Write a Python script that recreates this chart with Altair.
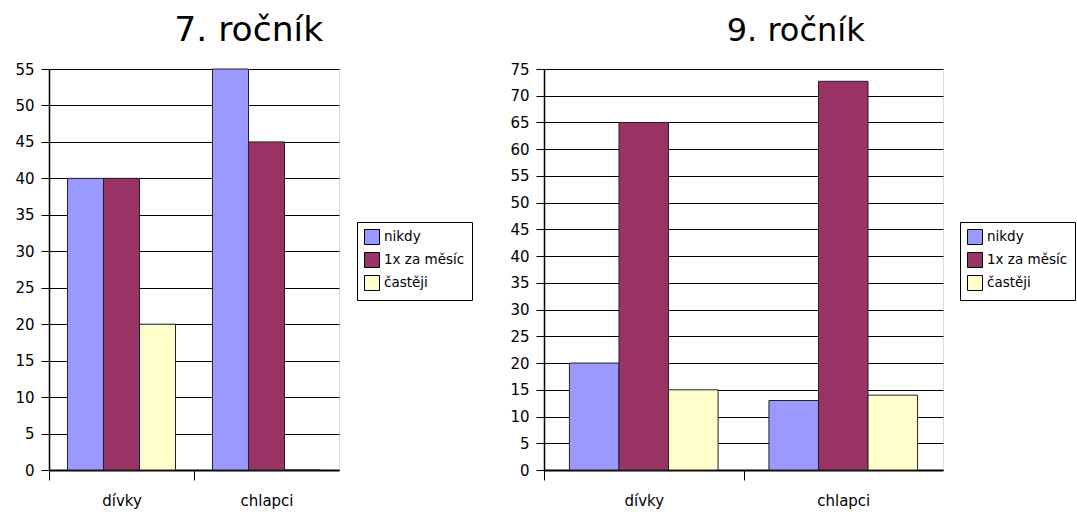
import altair as alt
import pandas as pd

categories = ["dívky", "chlapci"]
series = ["nikdy", "1x za měsíc", "častěji"]
colors = ["#9999FF", "#993366", "#FFFFCC"]

g7_nikdy = [40, 55]
g7_mesic = [40, 45]
g7_casteji = [20, 0]

g9_nikdy = [20, 13]
g9_mesic = [65, 72.7]
g9_casteji = [15, 14]

FONT = "DejaVu Sans"
PAD_INNER = 0.255


def make_frame(a, b, c):
    rows = []
    for i, cat in enumerate(categories):
        for s, vals in zip(series, (a, b, c)):
            rows.append({"skupina": cat, "odpověď": s, "hodnota": vals[i]})
    return pd.DataFrame(rows)


def panel(df, title, tsize, tdx, ymax, width, lx, ly):
    step = width / len(categories)
    shift = step * PAD_INNER / 2
    return (
        alt.Chart(
            df,
            title=alt.TitleParams(
                title, fontSize=tsize, font=FONT, fontWeight="normal", color="black",
                anchor="middle", frame="bounds", offset=14, dx=tdx,
            ),
        )
        .mark_bar(stroke="#222222", strokeWidth=1)
        .encode(
            x=alt.X(
                "skupina:N", sort=categories, title=None,
                scale=alt.Scale(paddingInner=PAD_INNER, paddingOuter=PAD_INNER / 2),
                axis=alt.Axis(
                    labelAngle=0, bandPosition=0, tickOffset=-shift, labelOffset=shift,
                    tickSize=10, tickColor="black",
                    domainColor="black", domainWidth=2, labelPadding=13,
                    labelFontSize=15, labelFont=FONT, labelColor="black",
                ),
            ),
            xOffset=alt.XOffset("odpověď:N", sort=series),
            y=alt.Y(
                "hodnota:Q", title=None,
                scale=alt.Scale(domain=[0, ymax], nice=False),
                axis=alt.Axis(
                    values=list(range(0, ymax + 1, 5)), tickSize=8, tickColor="black",
                    domainColor="black", domainWidth=1.5, labelPadding=7,
                    labelFontSize=15, labelFont=FONT, labelColor="black",
                    grid=True, gridColor="black", gridOpacity=1, gridWidth=1,
                ),
            ),
            color=alt.Color(
                "odpověď:N", sort=series,
                scale=alt.Scale(domain=series, range=colors),
                legend=alt.Legend(
                    title=None, orient="none", legendX=lx, legendY=ly,
                    strokeColor="black", fillColor="white", padding=7,
                    symbolType="square", symbolSize=225, symbolStrokeColor="black",
                    symbolStrokeWidth=1, symbolOpacity=1, labelFontSize=13.5,
                    labelFont=FONT, labelColor="black", rowPadding=3, labelOffset=4,
                ),
            ),
        )
        .properties(width=width, height=401)
    )


left = panel(make_frame(g7_nikdy, g7_mesic, g7_casteji), "7. ročník", 34.5, 5, 55, 290, 308, 153)
right = panel(make_frame(g9_nikdy, g9_mesic, g9_casteji), "9. ročník", 32, 3, 75, 399, 416, 153)

chart = (
    alt.hconcat(left, right, spacing=36)
    .resolve_scale(color="independent", y="independent", x="independent", xOffset="independent")
    .resolve_legend(color="independent")
    .properties(padding={"left": 14, "top": 12, "right": 0, "bottom": 0})
    .configure_view(stroke=None)
    .configure(background="white")
)

chart.save("out.html", embed_options={"renderer": "svg", "actions": False})
